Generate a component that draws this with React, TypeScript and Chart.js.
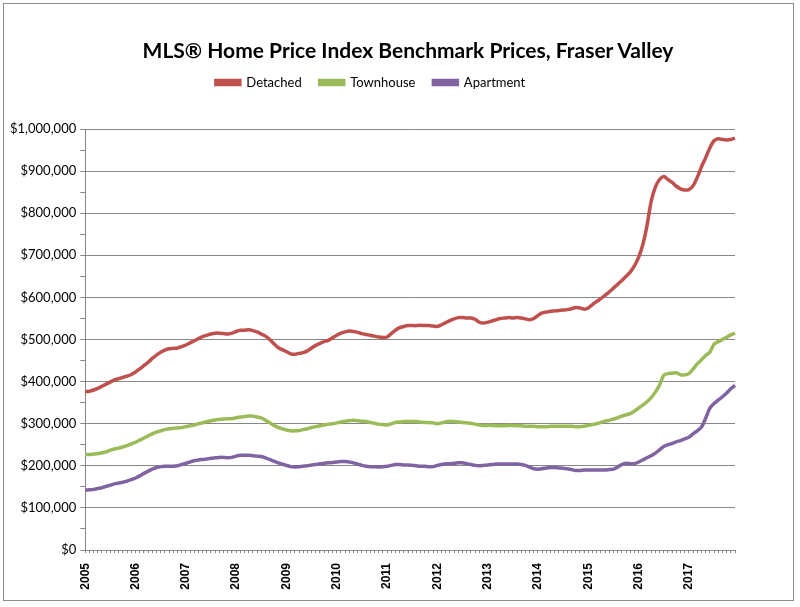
import { useEffect, useRef } from "react";
import { Chart, registerables } from "chart.js";

Chart.register(...registerables);

// Chart text
const title = "MLS® Home Price Index Benchmark Prices, Fraser Valley";
const seriesNames = ["Detached", "Townhouse", "Apartment"];

// x-axis: monthly points Jan 2005 .. Dec 2017, a label shown on each January
const years = ["2005", "2006", "2007", "2008", "2009", "2010", "2011", "2012", "2013", "2014", "2015", "2016", "2017"];
const months = ["01", "02", "03", "04", "05", "06", "07", "08", "09", "10", "11", "12"];

// y-axis ticks, in thousands of dollars
const yMax = 1000;
const yStep = 100;

// Benchmark prices, thousands of dollars, one value per month
const detached = [
  376, 377, 380, 384, 389, 394, 399, 404, 407, 410, 413, 417,
  423, 430, 438, 446, 455, 463, 470, 475, 478, 479, 480, 483,
  487, 492, 497, 502, 507, 510, 513, 515, 515, 514, 513, 515,
  519, 522, 522, 523, 521, 518, 513, 508, 500, 490, 481, 476,
  471, 466, 465, 467, 469, 473, 480, 486, 491, 495, 498, 504,
  510, 515, 518, 520, 519, 517, 514, 512, 510, 508, 506, 505,
  506, 514, 522, 528, 531, 533, 533, 533, 534, 533, 533, 532,
  531, 535, 540, 545, 549, 552, 552, 551, 551, 548, 541, 539,
  541, 544, 547, 550, 551, 552, 551, 552, 551, 549, 547, 550,
  557, 563, 565, 567, 568, 569, 570, 571, 573, 576, 575, 572,
  575, 583, 590, 597, 605, 613, 622, 631, 640, 650, 660, 675,
  695, 725, 770, 828, 862, 880, 887, 880, 873, 864, 858, 855,
  856, 865, 885, 910, 932, 955, 972, 977, 975, 974, 975, 978,
];

const townhouse = [
  227, 227, 228, 229, 231, 233, 237, 240, 242, 245, 248, 252,
  256, 261, 266, 271, 276, 280, 283, 286, 288, 289, 290, 291,
  293, 295, 297, 300, 302, 305, 307, 309, 310, 311, 312, 312,
  314, 316, 317, 318, 318, 316, 314, 308, 302, 296, 291, 288,
  285, 283, 283, 284, 286, 288, 291, 293, 295, 297, 299, 300,
  302, 304, 306, 307, 308, 307, 306, 305, 303, 301, 299, 298,
  297, 300, 303, 304, 305, 305, 305, 305, 304, 303, 303, 302,
  300, 302, 304, 306, 305, 304, 303, 302, 301, 299, 297, 296,
  296, 296, 295, 295, 295, 296, 296, 295, 295, 294, 294, 294,
  293, 293, 293, 294, 294, 294, 294, 294, 294, 293, 293, 294,
  296, 298, 300, 303, 306, 308, 311, 314, 318, 321, 324, 330,
  337, 344, 352, 362, 375, 392, 415, 419, 420, 421, 416, 416,
  419, 430, 442, 452, 462, 470, 489, 495, 500, 505, 511, 515,
];

const apartment = [
  142, 143, 144, 146, 148, 151, 154, 157, 159, 161, 164, 167,
  171, 176, 182, 187, 192, 196, 198, 199, 199, 199, 200, 203,
  206, 209, 212, 214, 215, 216, 218, 219, 220, 220, 219, 220,
  223, 225, 225, 225, 224, 223, 222, 219, 215, 211, 207, 204,
  201, 198, 197, 198, 199, 200, 202, 203, 205, 206, 207, 208,
  209, 210, 210, 209, 207, 204, 201, 199, 198, 198, 197, 198,
  199, 201, 203, 203, 202, 202, 201, 200, 199, 199, 198, 198,
  201, 203, 205, 205, 206, 207, 207, 205, 203, 201, 200, 201,
  202, 203, 204, 204, 204, 204, 204, 204, 203, 201, 197, 193,
  192, 193, 195, 196, 196, 195, 194, 193, 191, 189, 189, 190,
  190, 190, 190, 190, 190, 191, 192, 197, 203, 206, 205, 205,
  209, 214, 219, 224, 230, 238, 246, 250, 253, 257, 260, 264,
  268, 276, 283, 292, 313, 337, 348, 356, 364, 373, 383, 391,
];

const colors = ["#c0504d", "#9bbb59", "#8064a2"];
const axisGray = "#868686";

export default function App() {
  const canvasRef = useRef<HTMLCanvasElement>(null);
  const chartRef = useRef<Chart | null>(null);

  useEffect(() => {
    document.body.style.margin = "0";
    if (!canvasRef.current) return;
    if (chartRef.current) chartRef.current.destroy();

    const labels = years.flatMap((y) => months.map((m) => `${y}-${m}`));
    const series = [detached, townhouse, apartment];

    chartRef.current = new Chart(canvasRef.current, {
      type: "line",
      data: {
        labels,
        datasets: series.map((values, i) => ({
          label: seriesNames[i],
          data: values,
          borderColor: colors[i],
          backgroundColor: colors[i],
          borderWidth: 3.5,
          pointRadius: 0,
          tension: 0.25,
          fill: false,
        })),
      },
      options: {
        animation: false,
        responsive: false,
        maintainAspectRatio: false,
        layout: { padding: { top: 58, left: 6, right: 65, bottom: 0 } },
        plugins: {
          title: { display: false },
          // empty subtitle only keeps a gap between the legend and the plot
          subtitle: {
            display: true,
            text: "",
            weight: 500,
            font: { size: 10 },
            padding: { top: 0, bottom: 18 },
          },
          legend: {
            display: true,
            labels: {
              color: "#000",
              font: { family: "Lato", size: 13 },
              boxWidth: 24,
              boxHeight: 4,
              padding: 18,
            },
          },
          tooltip: { enabled: false },
        },
        scales: {
          x: {
            offset: false,
            afterFit: (scale) => {
              scale.height = 57;
            },
            border: { display: true, color: axisGray },
            grid: {
              drawOnChartArea: false,
              drawTicks: true,
              tickLength: 3,
              tickColor: axisGray,
            },
            ticks: {
              autoSkip: false,
              minRotation: 90,
              maxRotation: 90,
              padding: 10,
              color: "#000",
              font: { family: "Liberation Sans", size: 12, weight: "bold" },
              callback: function (value) {
                const label = this.getLabelForValue(value as number);
                return label.endsWith("-01") ? label.slice(0, 4) : "";
              },
            },
          },
          y: {
            min: 0,
            max: yMax,
            border: { display: true, color: axisGray },
            grid: {
              color: (ctx) =>
                ctx.tick && ctx.tick.value % yStep === 0 ? axisGray : "rgba(0,0,0,0)",
              tickColor: axisGray,
              tickLength: 5,
            },
            ticks: {
              stepSize: yStep / 2,
              padding: 4,
              color: "#000",
              font: { family: "Lato", size: 13 },
              callback: (value) => {
                const v = Number(value);
                if (v % yStep !== 0) return "";
                return "$" + (v * 1000).toLocaleString("en-US");
              },
            },
          },
        },
      },
    });

    return () => {
      if (chartRef.current) {
        chartRef.current.destroy();
        chartRef.current = null;
      }
    };
  }, []);

  return (
    <div style={{ position: "relative", width: 800, height: 607, background: "#fff" }}>
      <canvas ref={canvasRef} width={800} height={607} />
      <div
        style={{
          position: "absolute",
          left: 0,
          width: 816,
          top: 36,
          textAlign: "center",
          fontFamily: "Lato",
          fontWeight: "bold",
          fontSize: 21,
          lineHeight: "28px",
          color: "#000",
        }}
      >
        {title}
      </div>
      <div
        style={{
          position: "absolute",
          left: 3,
          top: 3,
          width: 789,
          height: 596,
          border: "1px solid #8c8c8c",
          pointerEvents: "none",
        }}
      />
    </div>
  );
}
